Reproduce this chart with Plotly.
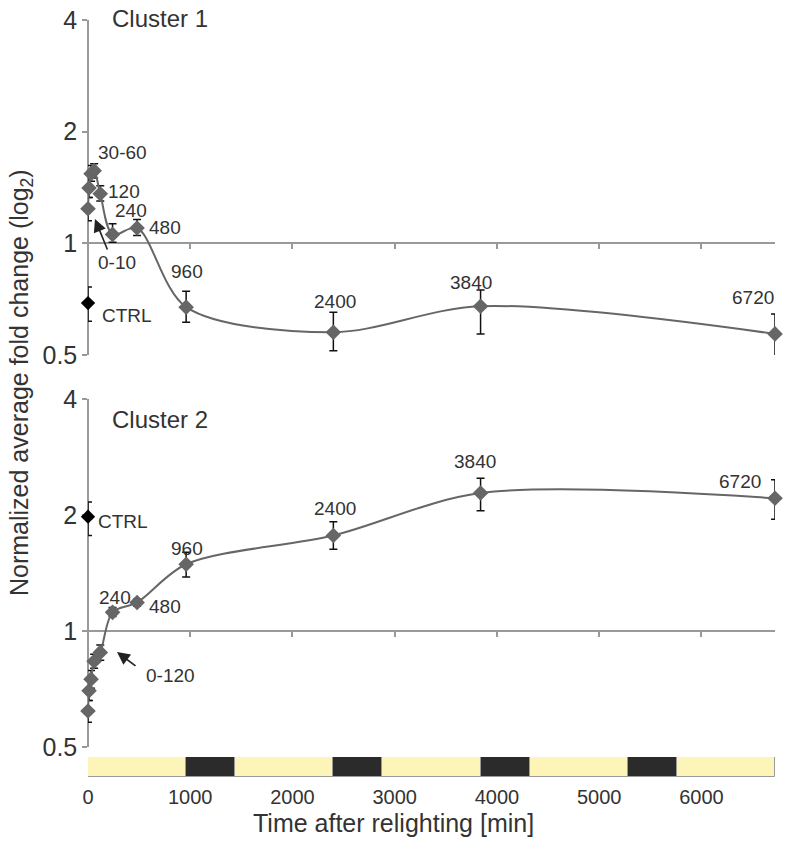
import plotly.graph_objects as go
import math

# ---------------- data ----------------
times = [0, 10, 30, 60, 120, 240, 480, 960, 2400, 3840, 6720]

c1_vals = [1.24, 1.41, 1.54, 1.57, 1.36, 1.057, 1.10, 0.673, 0.576, 0.677, 0.57]
c1_hi = [1.33, 1.50, 1.62, 1.64, 1.43, 1.13, 1.16, 0.743, 0.652, 0.748, 0.645]
c1_lo = [1.15, 1.33, 1.47, 1.50, 1.30, 1.006, 1.05, 0.613, 0.513, 0.57, 0.494]

c2_vals = [0.62, 0.70, 0.75, 0.835, 0.88, 1.118, 1.186, 1.49, 1.77, 2.28, 2.21]
c2_hi = [0.66, 0.75, 0.79, 0.87, 0.92, 1.15, 1.21, 1.60, 1.92, 2.49, 2.47]
c2_lo = [0.58, 0.66, 0.71, 0.80, 0.84, 1.09, 1.16, 1.38, 1.63, 2.05, 1.95]

ctrl_time = [0]
ctrl1_val = [0.69]
ctrl1_hi = [0.762]
ctrl1_lo = [0.617]
ctrl2_val = [1.98]
ctrl2_hi = [2.16]
ctrl2_lo = [1.77]

phase_starts = [0, 960, 1440, 2400, 2880, 3840, 4320, 5280, 5760]
phase_ends = [960, 1440, 2400, 2880, 3840, 4320, 5280, 5760, 6720]
phase_kind = ["light", "dark", "light", "dark", "light", "dark", "light", "dark", "light"]

y_tickvals = [0.5, 1, 2, 4]
y_ticktext = ["0.5", "1", "2", "4"]
x_tickvals = [0, 1000, 2000, 3000, 4000, 5000, 6000]
x_ticktext = ["0", "1000", "2000", "3000", "4000", "5000", "6000"]

# ---------------- layout helpers ----------------
W, H = 789, 843
FONT = "Arial, Liberation Sans, sans-serif"
TXT = "#333333"
GRAY = "#666666"
AXC = "#999999"


def px(x):
    return x / W


def py(y):
    return (H - y) / H


xdom = [px(88), px(775)]
top_dom = [py(355), py(20)]
bot_dom = [py(747), py(399)]
bar_dom = [py(777), py(757)]
yrange = [math.log10(0.5), math.log10(4)]


def one_pos(dom):
    # paper position of y=1 on a log axis spanning 0.5..4
    frac = (math.log10(1) - yrange[0]) / (yrange[1] - yrange[0])
    return dom[0] + frac * (dom[1] - dom[0])


fig = go.Figure()


def err(vals, hi, lo):
    return dict(type="data", symmetric=False,
                array=[h - v for h, v in zip(hi, vals)],
                arrayminus=[v - l for v, l in zip(vals, lo)],
                color="#111111", thickness=1.5, width=4)


for vals, hi, lo, xa, ya in [(c1_vals, c1_hi, c1_lo, "x", "y"),
                              (c2_vals, c2_hi, c2_lo, "x2", "y2")]:
    fig.add_trace(go.Scatter(
        x=times, y=vals, xaxis=xa, yaxis=ya, mode="lines+markers",
        line=dict(color=GRAY, width=2, shape="spline", smoothing=0.9),
        marker=dict(symbol="diamond", size=12, color=GRAY),
        error_y=err(vals, hi, lo), cliponaxis=False, showlegend=False))

for vals, hi, lo, xa, ya in [(ctrl1_val, ctrl1_hi, ctrl1_lo, "x", "y"),
                              (ctrl2_val, ctrl2_hi, ctrl2_lo, "x2", "y2")]:
    fig.add_trace(go.Scatter(
        x=ctrl_time, y=vals, xaxis=xa, yaxis=ya, mode="markers",
        marker=dict(symbol="diamond", size=11, color="#000000"),
        error_y=err(vals, hi, lo), cliponaxis=False, showlegend=False))

# light / dark bar
fig.add_trace(go.Bar(
    base=phase_starts,
    x=[e - s for s, e in zip(phase_starts, phase_ends)],
    y=[0] * len(phase_starts), orientation="h", width=1,
    marker=dict(color=["#FDF5B8" if k == "light" else "#2B2B2B" for k in phase_kind],
                line=dict(color="#9a9a9a", width=1)),
    xaxis="x3", yaxis="y3", showlegend=False, hoverinfo="skip"))

yax = dict(type="log", range=yrange, tickvals=y_tickvals, ticktext=y_ticktext,
           showline=True, linecolor=AXC, linewidth=1.5, ticks="outside",
           ticklen=5, tickcolor=AXC, tickwidth=1.5, showgrid=False, zeroline=False,
           tickfont=dict(family=FONT, size=25, color=TXT), anchor="free",
           position=xdom[0], automargin=False, layer="below traces")

xax = dict(range=[0, 6720], domain=xdom, showgrid=False, zeroline=False,
           showline=True, linecolor=AXC, linewidth=2, ticks="outside",
           ticklen=5, tickcolor=AXC, tickwidth=1.5, tickvals=x_tickvals,
           showticklabels=False, anchor="free", automargin=False,
           layer="below traces")

fig.update_layout(
    template="none",
    width=W, height=H, margin=dict(l=0, r=0, t=0, b=0, autoexpand=False),
    paper_bgcolor="white", plot_bgcolor="rgba(0,0,0,0)",
    xaxis=dict(xax, position=one_pos(top_dom)),
    xaxis2=dict(xax, position=one_pos(bot_dom)),
    xaxis3=dict(range=[0, 6720], domain=xdom, anchor="y3", showgrid=False,
                zeroline=False, showline=False, ticks="", tickvals=x_tickvals,
                ticktext=x_ticktext, ticklabelstandoff=6, automargin=False,
                tickfont=dict(family=FONT, size=20, color=TXT)),
    yaxis=dict(yax, domain=top_dom),
    yaxis2=dict(yax, domain=bot_dom),
    yaxis3=dict(domain=bar_dom, range=[-0.5, 0.5], visible=False, anchor="x3",
                automargin=False),
    bargap=0,
)

anns = []


def label(text, x, y, xanchor="center", size=19):
    anns.append(dict(text=text, x=px(x), y=py(y), xref="paper", yref="paper",
                     xanchor=xanchor, yanchor="middle", showarrow=False,
                     font=dict(family=FONT, size=size, color=TXT)))


def arrow(x0, y0, x1, y1):
    anns.append(dict(text="", x=px(x1), y=py(y1), xref="paper", yref="paper",
                     ax=x0 - x1, ay=y0 - y1, axref="pixel", ayref="pixel",
                     showarrow=True, arrowhead=2, arrowsize=1.6, arrowwidth=1.6,
                     arrowcolor="#222222"))


# titles
label("Cluster 1", 110, 18, "left", 24)
label("Cluster 2", 110, 420, "left", 24)
anns.append(dict(text="Normalized average fold change (log<sub>2</sub>)",
                 x=px(21), y=py(383), xref="paper", yref="paper", textangle=-90,
                 showarrow=False, xanchor="center", yanchor="middle",
                 font=dict(family=FONT, size=25, color=TXT)))
label("Time after relighting [min]", 393, 823, "center", 25)

# cluster 1 labels
label("30-60", 96, 153, "left")
label("120", 106, 191, "left")
label("240", 131, 211)
label("480", 147, 227, "left")
label("0-10", 96, 262, "left")
label("CTRL", 100, 315, "left")
label("960", 187, 272)
label("2400", 335, 302)
label("3840", 471, 282)
label("6720", 753, 297)
arrow(108, 251, 95, 219)

# cluster 2 labels
label("CTRL", 96, 521, "left")
label("960", 187, 548)
label("240", 115, 597)
label("480", 147, 606, "left")
label("0-120", 170, 675)
label("2400", 335, 508)
label("3840", 475, 461)
label("6720", 740, 481)
arrow(137, 667, 117, 652)

fig.update_layout(annotations=anns)

fig.write_html("out.html",
               config={"displayModeBar": False},
               post_script="document.body.style.margin='0px';"
                           "document.body.style.overflow='hidden';")
